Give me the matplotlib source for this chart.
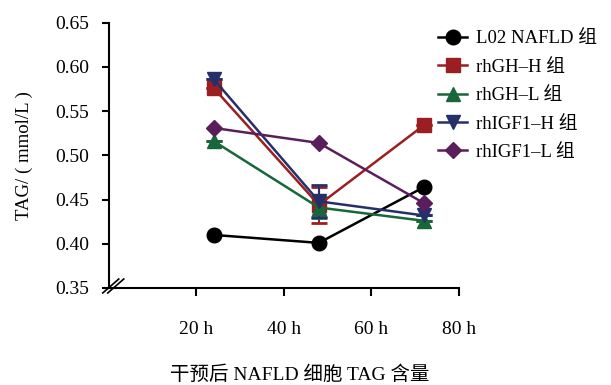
import matplotlib
matplotlib.use("Agg")
from matplotlib import pyplot as plt
from matplotlib.lines import Line2D
from matplotlib.transforms import ScaledTranslation

plt.rcParams['font.family'] = ['Liberation Serif', 'Noto Sans CJK SC']

hours = [24, 48, 72]
groups = ['L02 NAFLD 组', 'rhGH\u2013H 组', 'rhGH\u2013L 组', 'rhIGF1\u2013H 组', 'rhIGF1\u2013L 组']
l02 = [0.410, 0.401, 0.464]
gh_h = [0.576, 0.444, 0.534]
gh_l = [0.516, 0.441, 0.426]
igf_h = [0.586, 0.448, 0.432]
igf_l = [0.531, 0.514, 0.446]
gh_h_err = [0.0, 0.020, 0.0]
gh_l_err = [0.0, 0.012, 0.0]
igf_h_err = [0.0, 0.018, 0.0]

x_ticks = [20, 40, 60, 80]
x_ticklabels = ['20 h', '40 h', '60 h', '80 h']
y_ticks = [0.35, 0.40, 0.45, 0.50, 0.55, 0.60, 0.65]

fig = plt.figure(figsize=(6.11, 3.85), dpi=100)
ax = fig.add_axes([0.178, 0.252, 0.573, 0.689])

series = [
    (l02, None, 'o', '#000000'),
    (gh_h, gh_h_err, 's', '#9b1f22'),
    (gh_l, gh_l_err, '^', '#17673a'),
    (igf_h, igf_h_err, 'v', '#25306b'),
    (igf_l, None, 'D', '#5b1e5c'),
]

handles = []
for (vals, err, mk, col), name in zip(series, groups):
    ms = 8 if mk == 'D' else 10.5
    if err is not None:
        ax.errorbar(hours, vals, yerr=err, fmt='none', ecolor=col, elinewidth=1.5,
                    capsize=6, capthick=2, zorder=2)
    h, = ax.plot(hours, vals, marker=mk, color=col, linewidth=1.8, markersize=ms,
                 label=name, zorder=3)
    handles.append(h)

ax.set_xlim(0, 80)
ax.set_ylim(0.35, 0.65)
ax.set_xticks(x_ticks)
ax.set_xticklabels(x_ticklabels)
ax.set_yticks(y_ticks)
ax.set_yticklabels([f'{v:.2f}' for v in y_ticks])
ax.tick_params(axis='x', length=6, width=1.5, pad=18, labelsize=14)
ax.tick_params(axis='y', length=5, width=1.5, pad=9, labelsize=14)
ax.spines['top'].set_visible(False)
ax.spines['right'].set_visible(False)
for s in ['left', 'bottom']:
    ax.spines[s].set_linewidth(1.5)
ax.set_ylabel('TAG/ ( mmol/L )', fontsize=13.5, labelpad=16)

# axis break marks at the corner
for dx in (0, 5):
    tr = ax.transAxes + ScaledTranslation(dx / 100, 0, fig.dpi_scale_trans)
    ln = Line2D([-6 / 350, 10 / 350], [-5 / 266, 9 / 266], color='black', linewidth=1.2,
                transform=tr, clip_on=False)
    ax.add_line(ln)

fig.legend(handles=handles, loc='upper left', bbox_to_anchor=(0.69, 0.965),
           frameon=False, fontsize=13.5, handlelength=1.5, labelspacing=0.6,
           handletextpad=0.5)

fig.text(300 / 611, 1 - 375 / 385, '干预后 NAFLD 细胞 TAG 含量', ha='center', va='center',
         fontsize=14)

fig.savefig('out.png', dpi=100)
